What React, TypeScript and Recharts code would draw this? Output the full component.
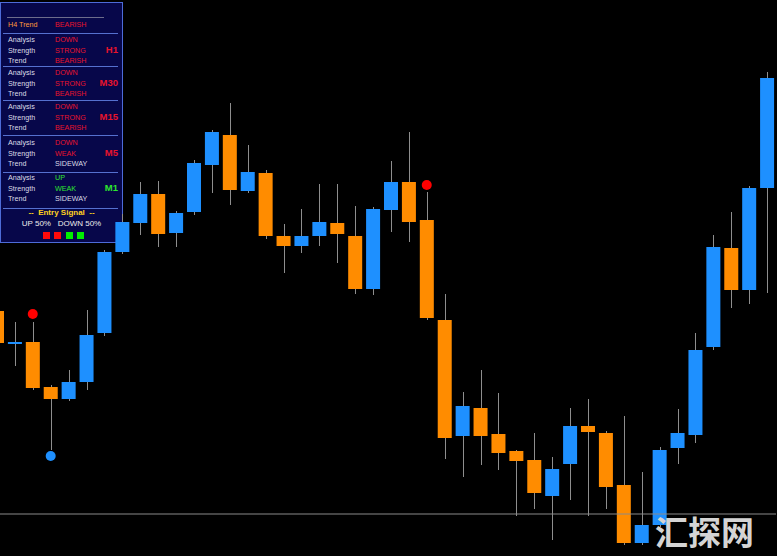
import { ComposedChart, Bar, Scatter, XAxis, YAxis, ReferenceLine } from "recharts";

// OHLC (oldest -> newest)
const open = [
  1.0989, 1.0956, 1.0958, 1.0913, 1.0901, 1.0918, 1.0967, 1.1048, 1.1077, 1.1106, 1.1067,
  1.1088, 1.1135, 1.1165, 1.1109, 1.1127, 1.1064, 1.1054, 1.1064, 1.1077, 1.1064, 1.1011,
  1.1090, 1.1118, 1.1080, 1.0980, 1.0864, 1.0892, 1.0866, 1.0849, 1.0840, 1.0804, 1.0836,
  1.0874, 1.0867, 1.0815, 1.0757, 1.0775, 1.0852, 1.0865, 1.0953, 1.1052, 1.1010, 1.1112,
];
const high = [
  1.0994, 1.0978, 1.0978, 1.0915, 1.0930, 1.0990, 1.1050, 1.1086, 1.1118, 1.1119, 1.1089,
  1.1140, 1.1170, 1.1197, 1.1155, 1.1130, 1.1076, 1.1091, 1.1116, 1.1116, 1.1094, 1.1093,
  1.1139, 1.1168, 1.1108, 1.1006, 1.0908, 1.0930, 1.0907, 1.0850, 1.0867, 1.0843, 1.0892,
  1.0901, 1.0869, 1.0884, 1.0828, 1.0853, 1.0891, 1.0967, 1.1065, 1.1088, 1.1114, 1.1228,
];
const low = [
  1.0952, 1.0934, 1.0910, 1.0850, 1.0899, 1.0910, 1.0964, 1.1046, 1.1065, 1.1053, 1.1053,
  1.1085, 1.1107, 1.1095, 1.1107, 1.1061, 1.1027, 1.1047, 1.1054, 1.1037, 1.1006, 1.1005,
  1.1068, 1.1058, 1.0980, 1.0841, 1.0823, 1.0835, 1.0830, 1.0784, 1.0791, 1.0760, 1.0800,
  1.0784, 1.0791, 1.0755, 1.0755, 1.0773, 1.0836, 1.0857, 1.0950, 1.0992, 1.0996, 1.1007,
];
const close = [
  1.0957, 1.0958, 1.0912, 1.0901, 1.0918, 1.0965, 1.1048, 1.1078, 1.1106, 1.1066, 1.1087,
  1.1137, 1.1168, 1.1110, 1.1128, 1.1064, 1.1054, 1.1064, 1.1078, 1.1066, 1.1011, 1.1091,
  1.1118, 1.1078, 1.0982, 1.0862, 1.0894, 1.0864, 1.0847, 1.0839, 1.0807, 1.0831, 1.0874,
  1.0868, 1.0813, 1.0757, 1.0775, 1.0850, 1.0867, 1.0950, 1.1053, 1.1010, 1.1112, 1.1222,
];

// arrow signals: [bar index, price]
const sellSignals = [[2, 1.0986], [24, 1.1115]];
const buySignals = [[3, 1.0844]];

const levelLine = 1.0786;
const priceMin = 1.0744;
const priceMax = 1.13;

// dashboard panel
const frames = ["H1", "M30", "M15", "M5", "M1"];
const analysis = ["DOWN", "DOWN", "DOWN", "DOWN", "UP"];
const strength = ["STRONG", "STRONG", "STRONG", "WEAK", "WEAK"];
const trend = ["BEARISH", "BEARISH", "BEARISH", "SIDEWAY", "SIDEWAY"];
const signalBoxes = ["#ff0a0a", "#ff0a0a", "#00f000", "#00f000"];

const BLUE = "#1e90ff";
const ORANGE = "#ff8c00";
const RED = "#e8142c";
const GREEN = "#2ee62e";
const LABEL = "#dcdce6";

const data = open.map((o, i) => {
  const s = sellSignals.find((p) => p[0] === i);
  const b = buySignals.find((p) => p[0] === i);
  return {
    i,
    open: o,
    high: high[i],
    low: low[i],
    close: close[i],
    sell: s ? s[1] : null,
    buy: b ? b[1] : null,
  };
});

function Candle(props: any) {
  const { x, y, width, height, payload } = props;
  if (!payload) return null;
  const top = Math.min(y, y + height);
  const h = Math.abs(height);
  const k = h / (payload.high - payload.low);
  const yo = top + (payload.high - payload.open) * k;
  const yc = top + (payload.high - payload.close) * k;
  const bodyTop = Math.min(yo, yc);
  const bodyH = Math.max(Math.abs(yc - yo), 1.5);
  const cx = Math.round(x + width / 2) + 0.5;
  return (
    <g>
      <line x1={cx} x2={cx} y1={top} y2={top + h} stroke="#8e8e8e" strokeWidth={1} />
      <rect x={x} y={bodyTop} width={width} height={bodyH} fill={payload.close >= payload.open ? BLUE : ORANGE} />
    </g>
  );
}

const dot = (color: string) => (props: any) => {
  const { cx, cy } = props;
  if (cx == null || cy == null || isNaN(cy)) return <g />;
  return <circle cx={cx} cy={cy} r={5} fill={color} />;
};

function T({ x, y, c, s = 7.2, b = false, right = false, children }: any) {
  return (
    <div
      style={{
        position: "absolute",
        top: y - s / 2 - 1,
        left: right ? undefined : x,
        right: right ? x : undefined,
        color: c,
        fontSize: s,
        lineHeight: `${s + 2}px`,
        fontWeight: b ? 700 : 400,
        whiteSpace: "nowrap",
      }}
    >
      {children}
    </div>
  );
}

const groupY = [39, 72, 106, 142, 177];
const sepY = [32, 65, 99, 134, 171, 207];

function Panel() {
  return (
    <div
      style={{
        position: "absolute",
        left: 0,
        top: 2,
        width: 121,
        height: 239,
        background: "#07074a",
        border: "1px solid #4d6bd8",
        fontFamily: "'Liberation Sans', Arial, sans-serif",
      }}
    >
      <div style={{ position: "absolute", left: 6, top: 14, width: 97, height: 1, background: "#6c6c8c" }} />
      <T x={7} y={22} c="#ff9a3c">H4 Trend</T>
      <T x={54} y={22} c={RED}>BEARISH</T>
      {sepY.map((sy) => (
        <div key={sy} style={{ position: "absolute", left: 2, top: sy - 2, width: 115, height: 1, background: "#5570d0" }} />
      ))}
      {frames.map((f, g) => {
        const col = analysis[g] === "UP" ? GREEN : RED;
        const y0 = groupY[g] - 2;
        return (
          <div key={f}>
            <T x={7} y={y0} c={LABEL}>Analysis</T>
            <T x={7} y={y0 + 10.5} c={LABEL}>Strength</T>
            <T x={7} y={y0 + 21} c={LABEL}>Trend</T>
            <T x={54} y={y0} c={col}>{analysis[g]}</T>
            <T x={54} y={y0 + 10.5} c={col}>{strength[g]}</T>
            <T x={54} y={y0 + 21} c={trend[g] === "BEARISH" ? RED : LABEL}>{trend[g]}</T>
            <T x={4} y={y0 + 10} c={col} s={9.5} b right>{f}</T>
          </div>
        );
      })}
      <div
        style={{
          position: "absolute",
          left: 0,
          width: 121,
          top: 205,
          textAlign: "center",
          color: "#ffd21e",
          fontSize: 8,
          fontWeight: 700,
          lineHeight: "10px",
        }}
      >
        --&nbsp; Entry Signal &nbsp;--
      </div>
      <div
        style={{
          position: "absolute",
          left: 0,
          width: 121,
          top: 216,
          textAlign: "center",
          color: "#ececec",
          fontSize: 8,
          lineHeight: "10px",
          whiteSpace: "pre",
        }}
      >
        {"UP 50%   DOWN 50%"}
      </div>
      {signalBoxes.map((c, k) => (
        <div
          key={k}
          style={{ position: "absolute", top: 229, left: [42, 53, 65, 76][k], width: 7, height: 7, background: c }}
        />
      ))}
    </div>
  );
}

export default function App() {
  return (
    <div style={{ position: "relative", width: 777, height: 556, overflow: "hidden", background: "#000" }}>
      <style>{"body{margin:0;}"}</style>
      <Panel />
      <div style={{ position: "absolute", left: -12, top: 0 }}>
        <ComposedChart width={788} height={556} data={data} margin={{ top: 0, right: 0, bottom: 0, left: 0 }}>
          <XAxis dataKey="i" hide />
          <YAxis type="number" domain={[priceMin, priceMax]} allowDataOverflow hide />
          <ReferenceLine y={levelLine} stroke="#8a8a8a" strokeWidth={1} />
          <Bar
            dataKey={(d: any) => [d.low, d.high]}
            barSize={14}
            shape={<Candle />}
            isAnimationActive={false}
          />
          <Scatter dataKey="sell" shape={dot("#ff0000")} isAnimationActive={false} />
          <Scatter dataKey="buy" shape={dot(BLUE)} isAnimationActive={false} />
        </ComposedChart>
      </div>
      <div
        style={{
          position: "absolute",
          left: 655,
          top: 511,
          color: "#d4d4d4",
          fontSize: 33,
          fontWeight: 700,
          fontFamily: "'Noto Sans CJK SC', sans-serif",
          lineHeight: "40px",
        }}
      >
        汇探网
      </div>
    </div>
  );
}
